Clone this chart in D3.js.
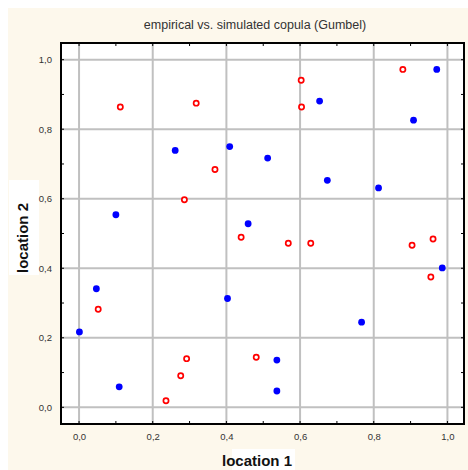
<!DOCTYPE html>
<html><head><meta charset="utf-8">
<script src="https://cdn.jsdelivr.net/npm/d3@7/dist/d3.min.js"></script>
<style>body{margin:0;background:#fff}svg{display:block}text{font-family:"Liberation Sans",Arial,sans-serif}</style>
</head><body><svg id="c" width="468" height="470"></svg>
<script>
const empX=[0.001,0.047,0.100,0.109,0.261,0.409,0.403,0.459,0.512,0.537,0.537,0.653,0.674,0.767,0.813,0.908,0.971,0.986];
const empY=[0.217,0.341,0.554,0.059,0.739,0.750,0.313,0.528,0.717,0.136,0.047,0.881,0.653,0.245,0.631,0.826,0.972,0.401];
const simX=[0.112,0.318,0.369,0.286,0.440,0.879,0.603,0.604,0.568,0.629,0.904,0.961,0.955,0.481,0.052,0.292,0.276,0.236];
const simY=[0.864,0.875,0.684,0.597,0.489,0.972,0.941,0.864,0.472,0.472,0.466,0.484,0.375,0.144,0.282,0.140,0.091,0.019];
const tickVals=[0,0.2,0.4,0.6,0.8,1.0];
const tickLabels=["0,0","0,2","0,4","0,6","0,8","1,0"];
const minorVals=[0.1,0.3,0.5,0.7,0.9];

const svg=d3.select("#c");
const L=61,R=464,T=43,B=424;
svg.append("rect").attr("x",8).attr("y",8).attr("width",460).attr("height",462).attr("fill","#fdf8ec");
svg.append("rect").attr("x",9).attr("y",180).attr("width",30).attr("height",95).attr("fill","#fff");
svg.append("rect").attr("x",232).attr("y",449).attr("width",63).attr("height",21).attr("fill","#fff");
svg.append("rect").attr("x",L).attr("y",T).attr("width",R-L).attr("height",B-T).attr("fill","#fff");

const x=d3.scaleLinear().domain([-0.049,1.045]).range([L,R]);
const y=d3.scaleLinear().domain([-0.048,1.048]).range([B,T]);

// grid
svg.append("g").selectAll("line").data(tickVals).join("line")
 .attr("x1",d=>x(d)).attr("x2",d=>x(d)).attr("y1",T).attr("y2",B).attr("stroke","#c0c0c0").attr("stroke-width",2);
svg.append("g").selectAll("line").data(tickVals).join("line")
 .attr("y1",d=>y(d)).attr("y2",d=>y(d)).attr("x1",L).attr("x2",R).attr("stroke","#c0c0c0").attr("stroke-width",2);

// axes
const xb=svg.append("g").attr("transform",`translate(0,${B})`).call(d3.axisBottom(x).tickValues(tickVals).tickFormat((d,i)=>tickLabels[i]).tickSize(0).tickPadding(9));
const yl=svg.append("g").attr("transform",`translate(${L},0)`).call(d3.axisLeft(y).tickValues(tickVals).tickFormat((d,i)=>tickLabels[i]).tickSize(0).tickPadding(9));
[xb,yl].forEach(g=>{g.select(".domain").remove();g.selectAll("text").attr("font-size",9.5).attr("fill","#333").attr("font-family","'Liberation Sans',Arial,sans-serif");});
// inner minor ticks
const ticksAll=tickVals.concat(minorVals);
svg.append("g").selectAll("line").data(ticksAll).join("line").attr("x1",d=>x(d)).attr("x2",d=>x(d)).attr("y1",T).attr("y2",T+3).attr("stroke","#000");
svg.append("g").selectAll("line").data(ticksAll).join("line").attr("x1",d=>x(d)).attr("x2",d=>x(d)).attr("y1",B).attr("y2",B-3).attr("stroke","#000");
svg.append("g").selectAll("line").data(ticksAll).join("line").attr("y1",d=>y(d)).attr("y2",d=>y(d)).attr("x1",L).attr("x2",L+3).attr("stroke","#000");
svg.append("g").selectAll("line").data(ticksAll).join("line").attr("y1",d=>y(d)).attr("y2",d=>y(d)).attr("x1",R).attr("x2",R-3).attr("stroke","#000");

svg.append("rect").attr("x",L).attr("y",T).attr("width",R-L).attr("height",B-T).attr("fill","none").attr("stroke","#000").attr("stroke-width",2);

// points
svg.append("g").selectAll("circle").data(simX).join("circle")
 .attr("cx",d=>x(d)).attr("cy",(d,i)=>y(simY[i])).attr("r",2.6).attr("fill","#fff").attr("stroke","#ff0000").attr("stroke-width",1.7);
svg.append("g").selectAll("circle").data(empX).join("circle")
 .attr("cx",d=>x(d)).attr("cy",(d,i)=>y(empY[i])).attr("r",3.4).attr("fill","#0000ff");

svg.append("text").attr("x",255).attr("y",29).attr("text-anchor","middle").attr("font-size",12.5).attr("fill","#333").text("empirical vs. simulated copula (Gumbel)");
svg.append("text").attr("x",257).attr("y",466).attr("text-anchor","middle").attr("font-size",15).attr("font-weight","bold").attr("fill","#111").text("location 1");
svg.append("text").attr("transform","translate(28,238) rotate(-90)").attr("text-anchor","middle").attr("font-size",15).attr("font-weight","bold").attr("fill","#111").text("location 2");
</script></body></html>
